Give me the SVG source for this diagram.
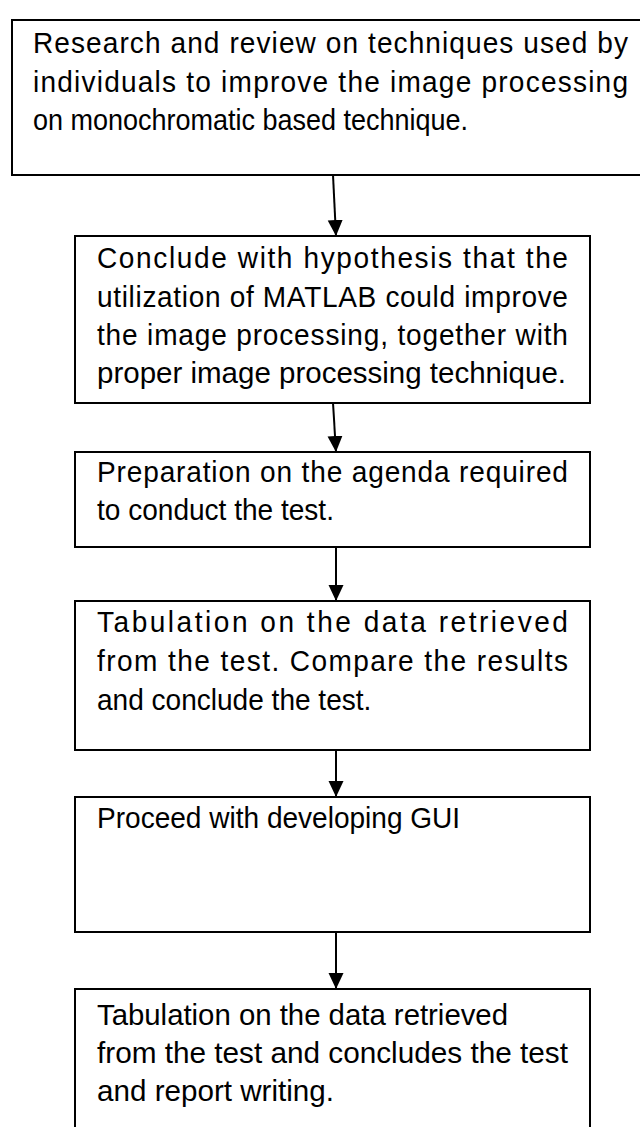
<svg xmlns="http://www.w3.org/2000/svg" width="640" height="1127" viewBox="0 0 640 1127">
<style>
.box{fill:#fff;stroke:#000;stroke-width:2}
.t{font-family:"Liberation Sans",Arial,sans-serif;font-size:30px;fill:#000}
.c{stroke:#000;stroke-width:2;fill:none}
</style>
<defs>
<marker id="ah" markerUnits="userSpaceOnUse" markerWidth="16" markerHeight="16" refX="16" refY="8" orient="auto">
<path d="M0,0.5 L16,8 L0,15.5 Z" fill="#000"/>
</marker>
</defs>
<rect width="640" height="1127" fill="#fff"/>
<g id="connectors">
<line class="c" x1="333" y1="175" x2="336" y2="236" marker-end="url(#ah)"/>
<line class="c" x1="333" y1="403" x2="336" y2="452" marker-end="url(#ah)"/>
<line class="c" x1="336" y1="547" x2="336" y2="601" marker-end="url(#ah)"/>
<line class="c" x1="336" y1="750" x2="336" y2="797" marker-end="url(#ah)"/>
<line class="c" x1="336" y1="932" x2="336" y2="989" marker-end="url(#ah)"/>
</g>
<g id="n1">
<rect class="box" x="12" y="20" width="640" height="155"/>
<g transform="scale(0.935 1)">
<text class="t" x="35.29" y="53" textLength="636.4" lengthAdjust="spacing">Research and review on techniques used by</text>
<text class="t" x="35.29" y="92" textLength="636.4" lengthAdjust="spacing">individuals to improve the image processing</text>
<text class="t" x="35.29" y="130" textLength="465.2" lengthAdjust="spacingAndGlyphs">on monochromatic based technique.</text>
</g>
</g>
<g id="n2">
<rect class="box" x="75" y="236" width="515" height="167"/>
<g transform="scale(0.935 1)">
<text class="t" x="103.74" y="268" textLength="503.7" lengthAdjust="spacing">Conclude with hypothesis that the</text>
<text class="t" x="103.74" y="307" textLength="503.7" lengthAdjust="spacing">utilization of MATLAB could improve</text>
<text class="t" x="103.74" y="345" textLength="503.7" lengthAdjust="spacing">the image processing, together with</text>
<text class="t" x="103.74" y="383" textLength="501.6" lengthAdjust="spacingAndGlyphs">proper image processing technique.</text>
</g>
</g>
<g id="n3">
<rect class="box" x="75" y="452" width="515" height="95"/>
<g transform="scale(0.935 1)">
<text class="t" x="103.74" y="482" textLength="503.7" lengthAdjust="spacing">Preparation on the agenda required</text>
<text class="t" x="103.74" y="520">to conduct the test.</text>
</g>
</g>
<g id="n4">
<rect class="box" x="75" y="601" width="515" height="149"/>
<g transform="scale(0.935 1)">
<text class="t" x="103.74" y="632" textLength="503.7" lengthAdjust="spacing">Tabulation on the data retrieved</text>
<text class="t" x="103.74" y="671" textLength="503.7" lengthAdjust="spacing">from the test. Compare the results</text>
<text class="t" x="103.74" y="710">and conclude the test.</text>
</g>
</g>
<g id="n5">
<rect class="box" x="75" y="797" width="515" height="135"/>
<g transform="scale(0.935 1)">
<text class="t" x="103.74" y="828">Proceed with developing GUI</text>
</g>
</g>
<g id="n6">
<rect class="box" x="75" y="989" width="515" height="160"/>
<g transform="scale(0.935 1)">
<text class="t" x="103.74" y="1025" textLength="439.6" lengthAdjust="spacingAndGlyphs">Tabulation on the data retrieved</text>
<text class="t" x="103.74" y="1063" textLength="503.7" lengthAdjust="spacingAndGlyphs">from the test and concludes the test</text>
<text class="t" x="103.74" y="1101" textLength="253.5" lengthAdjust="spacingAndGlyphs">and report writing.</text>
</g>
</g>
</svg>
